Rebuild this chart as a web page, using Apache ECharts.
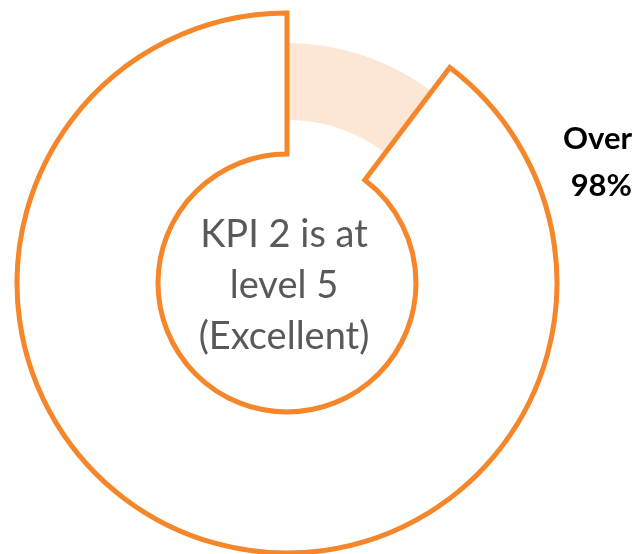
<!DOCTYPE html>
<html>
<head>
<meta charset="utf-8">
<script src="https://cdn.jsdelivr.net/npm/echarts@6/dist/echarts.min.js"></script>
<style>
html,body{margin:0;padding:0;background:#fff;}
#main{width:636px;height:554px;}
</style>
</head>
<body>
<div id="main"></div>
<script>
var categories = ['Remaining', 'Level 5'];
var values = [10.3, 89.7];
var centerText = ['KPI 2 is at', 'level 5', '(Excellent)'];
var sideText = ['Over', '98%'];

var ORANGE = '#F5862A';
var LIGHT = '#FDE6D4';

var chart = echarts.init(document.getElementById('main'), null, {renderer: 'canvas'});

function mkData(mode) {
  return categories.map(function (c, i) {
    var st;
    if (mode === 'main') {
      st = i === 1 ? {color: '#ffffff', borderColor: ORANGE, borderWidth: 5, borderJoin: 'miter'}
                   : {color: 'rgba(0,0,0,0)', borderWidth: 0};
    } else {
      st = i === 0 ? {color: LIGHT, borderWidth: 0}
                   : {color: 'rgba(0,0,0,0)', borderWidth: 0};
    }
    return {name: c, value: values[i], itemStyle: st};
  });
}

chart.setOption({
  animation: false,
  series: [
    {
      type: 'pie', silent: true, center: [287, 283], radius: [163, 240],
      startAngle: 90, clockwise: true, label: {show: false}, labelLine: {show: false},
      data: mkData('band')
    },
    {
      type: 'pie', silent: true, center: [287, 283], radius: [129, 270],
      startAngle: 90, clockwise: true, label: {show: false}, labelLine: {show: false},
      data: mkData('main')
    }
  ],
  graphic: [
    {
      type: 'text', silent: true, x: 284, y: 286,
      style: {
        text: centerText.join('\n'), align: 'center', verticalAlign: 'middle',
        font: '38px Lato, "Open Sans", sans-serif', lineHeight: 51, fill: '#595959'
      }
    },
    {
      type: 'text', silent: true, x: 632, y: 115,
      style: {
        text: sideText.join('\n'), align: 'right',
        font: 'bold 31px Lato, "Open Sans", sans-serif', lineHeight: 47, fill: '#000000'
      }
    }
  ]
});
</script>
</body>
</html>
